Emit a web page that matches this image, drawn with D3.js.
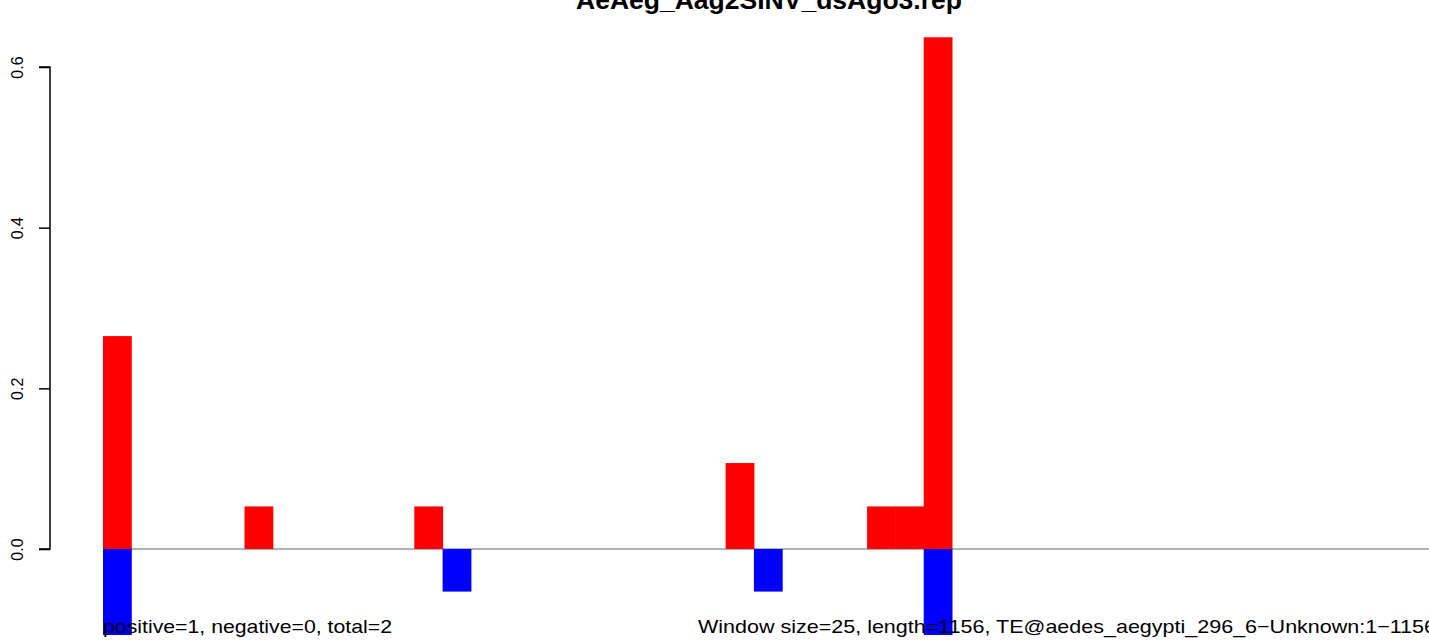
<!DOCTYPE html>
<html>
<head>
<meta charset="utf-8">
<script src="https://cdn.jsdelivr.net/npm/d3@7"></script>
<style>
  html, body { margin: 0; padding: 0; background: #fff; overflow: hidden; }
  svg { display: block; font-family: "Liberation Sans", Arial, Helvetica, sans-serif; }
</style>
</head>
<body>
<svg id="chart" width="1429" height="641"></svg>
<script>
// ---- data ----
const title = "AeAeg_Aag2SINV_dsAgo3.rep";
const nBins = 47;                      // 1156 nt / window 25
const posBins   = [0, 5, 11, 22, 27, 28, 29];
const posValues = [0.265, 0.053, 0.053, 0.107, 0.053, 0.053, 0.637];
const negBins   = [0, 12, 23, 29];
const negValues = [-0.16, -0.053, -0.053, -0.16];
const yTicks = [0.0, 0.2, 0.4, 0.6];
const yLim = [-0.107, 0.66];
const leftNote = "positive=1, negative=0, total=2";
const rightNote = "Window size=25, length=1156, TE@aedes_aegypti_296_6\u2212Unknown:1\u22121156";

// ---- layout ----
const svg = d3.select("#chart");
const W = 1429, H = 641;
const x = d3.scaleLinear().domain([0, nBins]).range([103, 103 + nBins * 28.3]);
const y = d3.scaleLinear().domain([0, 0.6]).range([549, 67]);

const clipTop = y(yLim[1]), clipBot = y(yLim[0]);
svg.append("clipPath").attr("id", "plotclip")
  .append("rect").attr("x", x(0)).attr("y", clipTop)
  .attr("width", W - x(0)).attr("height", clipBot - clipTop);

const plot = svg.append("g").attr("clip-path", "url(#plotclip)");

// zero line
plot.append("line")
  .attr("x1", x(0)).attr("x2", W)
  .attr("y1", y(0)).attr("y2", y(0))
  .attr("stroke", "#9a9a9a").attr("stroke-width", 1.5);

const bw = x(1) - x(0);
plot.selectAll("rect.pos").data(posBins.map((b, i) => ({b, v: posValues[i]})))
  .join("rect").attr("class", "pos")
  .attr("x", d => x(d.b)).attr("width", bw + 0.5)
  .attr("y", d => y(d.v)).attr("height", d => y(0) - y(d.v))
  .attr("fill", "#ff0000");

plot.selectAll("rect.neg").data(negBins.map((b, i) => ({b, v: negValues[i]})))
  .join("rect").attr("class", "neg")
  .attr("x", d => x(d.b)).attr("width", bw + 0.5)
  .attr("y", y(0)).attr("height", d => y(d.v) - y(0))
  .attr("fill", "#0000ff");

// y axis
const axisX = 50;
const ax = svg.append("g").attr("transform", `translate(${axisX},0)`)
  .call(d3.axisLeft(y).tickValues(yTicks).tickFormat(d3.format(".1f")).tickSize(11).tickPadding(0));
ax.select(".domain").attr("stroke", "#000").attr("stroke-width", 1.5).attr("d", `M-11,${y(0.6)}H0V${y(0)}H-11`);
ax.selectAll(".tick line").attr("stroke", "#000").attr("stroke-width", 1.5);
ax.selectAll(".tick text")
  .attr("font-size", 16).attr("fill", "#000")
  .attr("text-anchor", "middle")
  .attr("transform", "translate(-27,0) rotate(-90)")
  .attr("x", 0).attr("dy", 0).attr("y", 0);

// title
svg.append("text")
  .attr("x", 576).attr("y", 9)
  .attr("font-size", 25).attr("font-weight", "bold")
  .attr("textLength", 386).attr("lengthAdjust", "spacingAndGlyphs")
  .text(title);

// bottom notes
svg.append("text")
  .attr("x", 103).attr("y", 633)
  .attr("font-size", 19)
  .attr("textLength", 289).attr("lengthAdjust", "spacingAndGlyphs")
  .text(leftNote);

svg.append("text")
  .attr("x", 698).attr("y", 633)
  .attr("font-size", 19)
  .attr("textLength", 738).attr("lengthAdjust", "spacingAndGlyphs")
  .text(rightNote);
</script>
</body>
</html>
